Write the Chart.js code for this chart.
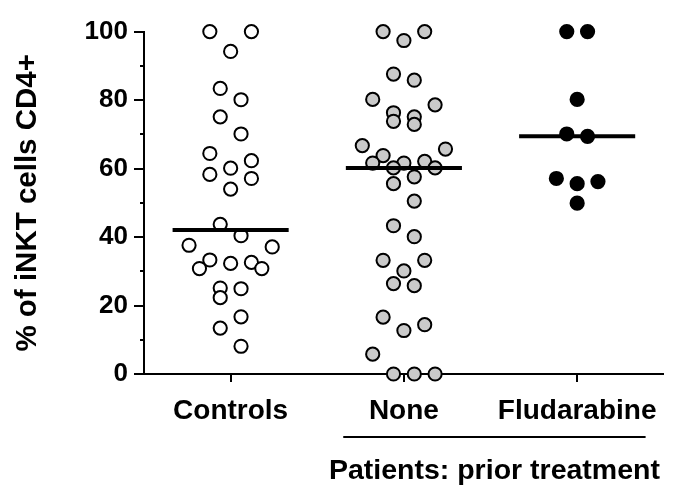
<!DOCTYPE html>
<html><head><meta charset="utf-8">
<script src="https://cdn.jsdelivr.net/npm/chart.js@4.4.1/dist/chart.umd.min.js"></script>
<style>html,body{margin:0;padding:0;background:#fff;}#wrap{width:678px;height:495px;position:relative;}</style>
</head><body><div id="wrap"><canvas id="c"></canvas></div>
<script>
// ---- data ----
const categories = ['Controls', 'None', 'Fludarabine'];
const controlsValues = [100, 100, 94.2, 83.4, 80.1, 75.1, 70.1, 64.4, 62.3, 60.1, 58.3, 57.1, 54, 43.7, 40.4, 37.6, 37.1, 33.3, 32.6, 32.3, 30.8, 30.8, 25.1, 24.9, 22.3, 16.7, 13.4, 8.1];
const noneValues = [100, 100, 97.4, 87.6, 85.8, 80.2, 78.6, 76.3, 75.1, 73.8, 72.9, 66.7, 65.7, 63.8, 62.1, 61.6, 61.6, 60.2, 60.2, 57.6, 55.6, 50.5, 43.3, 40.1, 33.2, 33.2, 30.1, 26.4, 25.8, 16.6, 14.4, 12.7, 5.8, 0, 0, 0];
const fludarabineValues = [100, 100, 80.2, 70.1, 69.4, 57.1, 56.2, 55.6, 49.9];
const yTickValues = [0, 20, 40, 60, 80, 100];
const yTitle = '% of iNKT cells CD4+';
const groupLabel = 'Patients: prior treatment';

// ---- layout helpers (style constants) ----
const BIN = 6;          // value range grouped into one swarm row
const MAXROW = 5;       // max points side by side in one row
const SPACING = 0.12;   // horizontal spacing between points in a row (category units)
const FONT = '"Liberation Sans", Arial, Helvetica, sans-serif';

function median(vals) {
  const s = vals.slice().sort((a, b) => a - b);
  const n = s.length;
  return n % 2 ? s[(n - 1) / 2] : (s[n / 2 - 1] + s[n / 2]) / 2;
}
function swarm(vals, center) {
  const s = vals.slice().sort((a, b) => b - a);
  const out = [];
  let i = 0;
  while (i < s.length) {
    const top = s[i];
    const bin = [];
    while (i < s.length && top - s[i] < BIN && bin.length < MAXROW) bin.push(s[i++]);
    const n = bin.length;
    const slots = [];
    for (let k = 0; k < n; k++) slots.push(k - (n - 1) / 2);
    slots.sort((a, b) => Math.abs(b) - Math.abs(a) || a - b);
    bin.forEach((v, j) => out.push({ x: center + slots[j] * SPACING, y: v }));
  }
  return out;
}

const groups = [
  { vals: controlsValues, fill: '#ffffff' },
  { vals: noneValues, fill: '#cacaca' },
  { vals: fludarabineValues, fill: '#000000' }
];

const datasets = [];
groups.forEach((g, i) => {
  datasets.push({
    type: 'scatter',
    data: swarm(g.vals, i + 1),
    backgroundColor: g.fill,
    borderColor: '#000',
    borderWidth: 2,
    pointRadius: 6.6,
    pointHoverRadius: 6.6,
    clip: false,
    order: 1
  });
  const m = median(g.vals);
  datasets.push({
    type: 'line',
    data: [{ x: i + 1 - 0.335, y: m }, { x: i + 1 + 0.335, y: m }],
    borderColor: '#000',
    borderWidth: 4,
    pointRadius: 0,
    fill: false,
    clip: false,
    order: 0
  });
});

const decor = {
  id: 'decor',
  afterDraw(chart) {
    const { ctx, scales: { x, y } } = chart;
    ctx.save();
    ctx.strokeStyle = '#000';
    ctx.fillStyle = '#000';
    ctx.lineWidth = 2;
    // y ticks: major at labelled values, minor halfway between
    for (let v = 0; v <= 100; v += 10) {
      const py = Math.round(y.getPixelForValue(v));
      const len = yTickValues.includes(v) ? 10 : 4;
      ctx.beginPath(); ctx.moveTo(x.left - len, py); ctx.lineTo(x.left, py); ctx.stroke();
    }
    // x category ticks
    categories.forEach((c, i) => {
      const px = Math.round(x.getPixelForValue(i + 1));
      ctx.beginPath(); ctx.moveTo(px, y.bottom); ctx.lineTo(px, y.bottom + 8); ctx.stroke();
    });
    // group bracket and label
    const x1 = x.getPixelForValue(1.65), x2 = x.getPixelForValue(3.395);
    ctx.beginPath(); ctx.moveTo(x1, 437); ctx.lineTo(x2, 437); ctx.stroke();
    ctx.font = 'bold 28.5px ' + FONT;
    ctx.textAlign = 'center';
    ctx.textBaseline = 'middle';
    ctx.fillText(groupLabel, (x1 + x2) / 2, 471);
    ctx.restore();
  }
};

new Chart(document.getElementById('c'), {
  data: { datasets },
  options: {
    responsive: true,
    maintainAspectRatio: false,
    animation: false,
    events: [],
    layout: { padding: { top: 24, right: 9, left: 0, bottom: 0 } },
    plugins: { legend: { display: false }, tooltip: { enabled: false } },
    scales: {
      x: {
        type: 'linear',
        min: 0.5, max: 3.5,
        afterBuildTicks: s => { s.ticks = categories.map((c, i) => ({ value: i + 1 })); },
        afterFit: s => { s.height = 121; },
        grid: { display: false, drawTicks: false },
        border: { display: true, color: '#000', width: 2 },
        ticks: {
          autoSkip: false, maxRotation: 0, padding: 20, color: '#000',
          font: { family: FONT, size: 28, weight: 'bold' },
          callback: v => categories[v - 1] || ''
        }
      },
      y: {
        type: 'linear',
        min: 0, max: 100,
        afterBuildTicks: s => { s.ticks = yTickValues.map(v => ({ value: v })); },
        afterFit: s => { s.width = 144; },
        grid: { display: false, drawTicks: false },
        border: { display: true, color: '#000', width: 2 },
        ticks: {
          padding: 16, color: '#000',
          font: { family: FONT, size: 26, weight: 'bold' }
        },
        title: {
          display: true, text: yTitle, color: '#000',
          font: { family: FONT, size: 29.5, weight: 'bold' },
          padding: { top: 10, bottom: 0 }
        }
      }
    }
  },
  plugins: [decor]
});
</script></body></html>
